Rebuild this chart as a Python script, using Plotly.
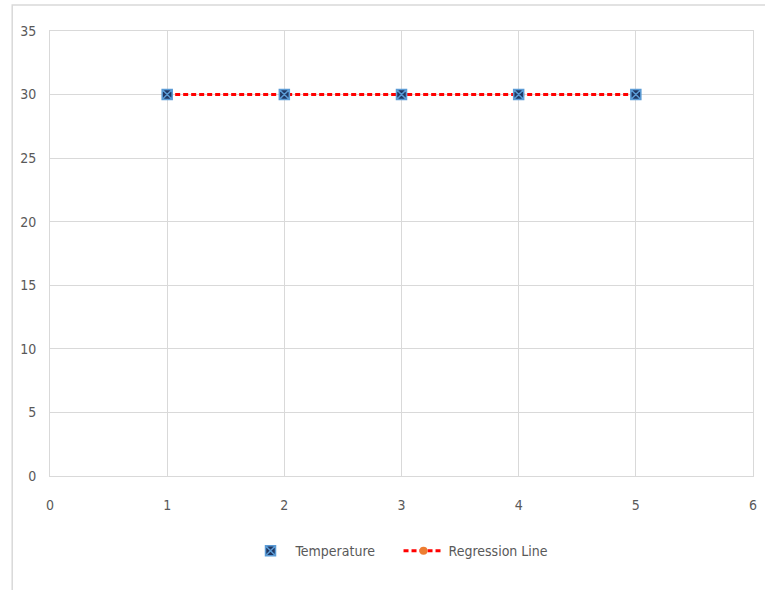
import plotly.graph_objects as go

x_vals = [1, 2, 3, 4, 5]
temperature = [30, 30, 30, 30, 30]
regression = [30, 30, 30, 30, 30]
x_ticks = [0, 1, 2, 3, 4, 5, 6]
y_ticks = [0, 5, 10, 15, 20, 25, 30, 35]

font_fam = "DejaVu Sans Condensed, Roboto, sans-serif"
grid = "#d9d9d9"

W, H = 765, 590
L, T, R, B = 50, 31, 8, 114
pw, ph = W - L - R, H - T - B

fig = go.Figure()
fig.add_trace(go.Scatter(
    x=x_vals, y=regression, mode="lines+markers", name="Regression Line",
    line=dict(color="#ff0000", width=3, dash="5px,3px"),
    marker=dict(symbol="circle", size=8, color="#ed7d31"),
    legendrank=2,
))
fig.add_trace(go.Scatter(
    x=x_vals, y=temperature, mode="markers", name="Temperature",
    marker=dict(symbol="square-x", size=10, color="#203864",
                line=dict(color="#5b9bd5", width=1.5)),
    legendrank=1,
))

fig.update_layout(
    width=W, height=H,
    margin=dict(l=L, r=R, t=T, b=B),
    paper_bgcolor="white", plot_bgcolor="white",
    font=dict(family=font_fam, size=14, color="#595959"),
    showlegend=True,
    legend=dict(orientation="h", x=0.5 - 3 / pw, xanchor="center", y=-0.169, yanchor="middle",
                font=dict(size=14, color="#595959"), itemwidth=40,
                entrywidth=98, entrywidthmode="pixels"),
    xaxis=dict(range=[0, 6], tickvals=x_ticks, showgrid=True, gridcolor=grid, gridwidth=1,
               showline=True, linecolor=grid, mirror=True, zeroline=False,
               ticks="", ticklabelstandoff=16),
    yaxis=dict(range=[0, 35], tickvals=y_ticks, showgrid=True, gridcolor=grid, gridwidth=1,
               showline=True, linecolor=grid, mirror=True, zeroline=False,
               ticks="", ticklabelstandoff=10),
    shapes=[dict(type="rect", xref="paper", yref="paper",
                 x0=(12 - L) / pw, x1=1.1, y0=-0.4, y1=(H - B - 5) / ph,
                 line=dict(color="#d9d9d9", width=1.5), layer="below")],
)

fig.write_html("out.html", config={"displayModeBar": False},
               post_script="document.body.style.margin='0';")
